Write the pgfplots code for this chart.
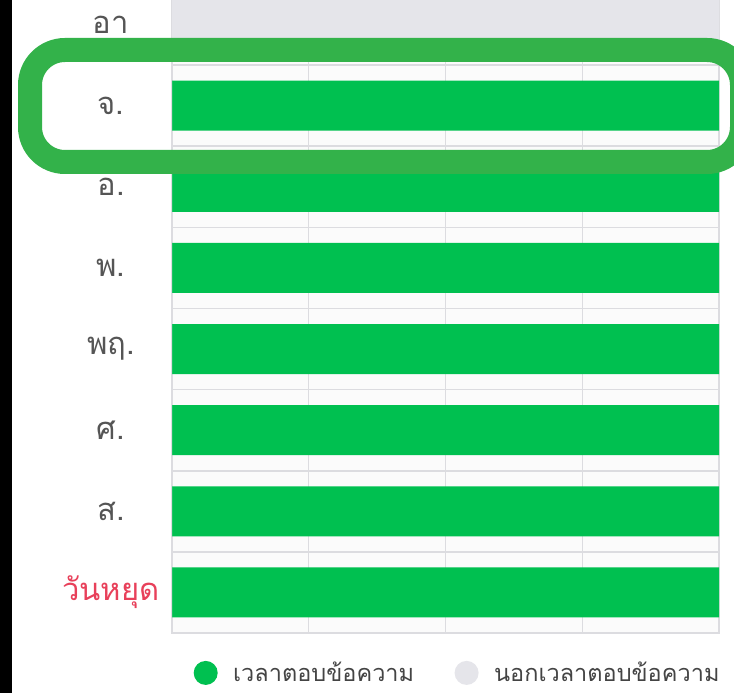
\documentclass[border=0pt]{standalone}
\usepackage{fontspec}
\usepackage{pgfplots}
\pgfplotsset{compat=1.18}
\newfontfamily\thaifont[Script=Thai]{Loma}
\definecolor{barGreen}{HTML}{00C050}
\definecolor{ringGreen}{HTML}{33B24A}
\definecolor{offGray}{HTML}{E5E5EA}
\definecolor{gridGray}{HTML}{DCDCE0}
\definecolor{labGray}{HTML}{555555}
\definecolor{legGray}{HTML}{444444}
\definecolor{holRed}{HTML}{E8405A}
\begin{document}
\begin{tikzpicture}[x=1pt,y=1pt]
\useasboundingbox (0,0) rectangle (734,693);
\fill[white] (0,0) rectangle (734,693);
\begin{scope}
\clip (0,0) rectangle (734,693);
\begin{axis}[
  at={(172pt,60pt)}, anchor=south west, scale only axis,
  width=547pt, height=649pt,
  xmin=0, xmax=24, ymin=-0.5, ymax=7.5, y dir=reverse,
  xtick={0,6,12,18,24}, xticklabels={},
  ytick={0,...,7},
  yticklabels={อา, จ., อ., พ., พฤ., ศ., ส., \textcolor{holRed}{วันหยุด}},
  minor ytick={0.5,1.5,...,6.5},
  xmajorgrids, yminorgrids, ymajorgrids=false,
  major grid style={gridGray, line width=1.2pt},
  minor grid style={gridGray, line width=1.6pt},
  axis line style={gridGray, line width=1.2pt},
  axis background/.style={fill=white!97!gray},
  major tick length=0pt, minor tick length=0pt,
  yticklabel style={anchor=center, xshift=-61pt, font=\thaifont\fontsize{31}{34}\selectfont, text=labGray},
  legend columns=2,
  legend style={draw=none, fill=none, inner sep=0pt,
    at={(axis description cs:0.0384,-0.0615)}, anchor=west,
    font=\thaifont\fontsize{23.5}{27}\selectfont, text=legGray,
    /tikz/every even column/.append style={column sep=38pt}},
  legend cell align=left,
]
\addplot[xbar, bar width=50pt, bar shift=0pt, fill=barGreen, draw=none, forget plot]
  coordinates {(0,0) (24,1) (24,2) (24,3) (24,4) (24,5) (24,6) (24,7)};
\addplot[xbar, bar width=50pt, bar shift=0pt, fill=offGray, draw=none, forget plot]
  coordinates {(24,0) (0,1) (0,2) (0,3) (0,4) (0,5) (0,6) (0,7)};
\addlegendimage{legend image code/.code={\path[draw=none,fill=none] (0pt,0pt) -- (38pt,0pt); \fill[barGreen, draw=none] (12.5pt,0pt) circle (12pt);}}
\addlegendentry{เวลาตอบข้อความ}
\addlegendimage{legend image code/.code={\path[draw=none,fill=none] (0pt,0pt) -- (38pt,0pt); \fill[offGray, draw=none] (12.5pt,0pt) circle (12pt);}}
\addlegendentry{นอกเวลาตอบข้อความ}
\end{axis}
\draw[ringGreen, line width=24pt, rounded corners=35pt] (30,643) rectangle (742,531);
\fill[black] (0,0) rectangle (12,693);
\end{scope}
\end{tikzpicture}
\end{document}
